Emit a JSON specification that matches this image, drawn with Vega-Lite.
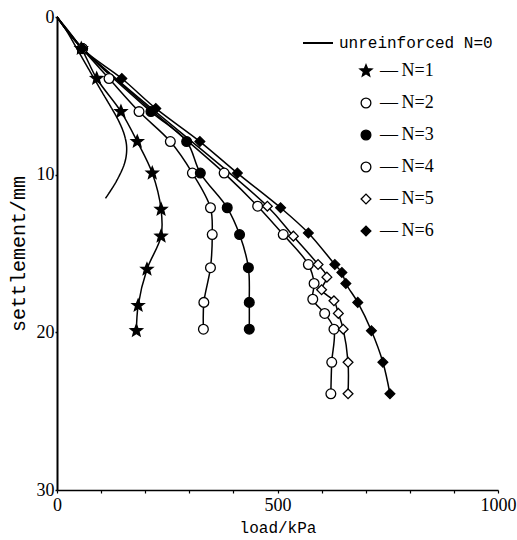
{
  "$schema": "https://vega.github.io/schema/vega-lite/v6.json",
  "width": 441,
  "height": 473,
  "autosize": "none",
  "padding": {"left": 57, "top": 17, "right": 19, "bottom": 50},
  "background": "white",
  "config": {
    "view": {"stroke": null},
    "axis": {"grid": false, "domainColor": "black", "tickColor": "black", "labelColor": "black", "titleColor": "black"}
  },
  "data": {
    "values": [
      {"series": "N=0", "load": 0, "s": 0},
      {"series": "N=0", "load": 20, "s": 0.8},
      {"series": "N=0", "load": 45, "s": 2},
      {"series": "N=0", "load": 82, "s": 3.8},
      {"series": "N=0", "load": 105, "s": 4.9},
      {"series": "N=0", "load": 122, "s": 5.7},
      {"series": "N=0", "load": 140, "s": 6.6},
      {"series": "N=0", "load": 153, "s": 7.5},
      {"series": "N=0", "load": 158, "s": 8.3},
      {"series": "N=0", "load": 154, "s": 9.2},
      {"series": "N=0", "load": 135, "s": 10.4},
      {"series": "N=0", "load": 110, "s": 11.5},
      {"series": "N=1", "load": 0, "s": 0},
      {"series": "N=1", "load": 55, "s": 2},
      {"series": "N=1", "load": 90, "s": 3.9},
      {"series": "N=1", "load": 145, "s": 6},
      {"series": "N=1", "load": 182, "s": 7.9},
      {"series": "N=1", "load": 216, "s": 9.9},
      {"series": "N=1", "load": 236, "s": 12.2},
      {"series": "N=1", "load": 236, "s": 13.9},
      {"series": "N=1", "load": 204, "s": 16.0},
      {"series": "N=1", "load": 184, "s": 18.3},
      {"series": "N=1", "load": 180, "s": 19.9},
      {"series": "N=2", "load": 0, "s": 0},
      {"series": "N=2", "load": 57, "s": 2},
      {"series": "N=2", "load": 118, "s": 3.9},
      {"series": "N=2", "load": 186, "s": 6},
      {"series": "N=2", "load": 257, "s": 7.9},
      {"series": "N=2", "load": 307, "s": 9.9},
      {"series": "N=2", "load": 348, "s": 12.1},
      {"series": "N=2", "load": 352, "s": 13.8},
      {"series": "N=2", "load": 348, "s": 15.9},
      {"series": "N=2", "load": 333, "s": 18.1},
      {"series": "N=2", "load": 332, "s": 19.8},
      {"series": "N=3", "load": 0, "s": 0},
      {"series": "N=3", "load": 57, "s": 2},
      {"series": "N=3", "load": 213, "s": 6},
      {"series": "N=3", "load": 294, "s": 7.9},
      {"series": "N=3", "load": 325, "s": 9.9},
      {"series": "N=3", "load": 386, "s": 12.1},
      {"series": "N=3", "load": 414, "s": 13.8},
      {"series": "N=3", "load": 434, "s": 15.9},
      {"series": "N=3", "load": 436, "s": 18.1},
      {"series": "N=3", "load": 436, "s": 19.8},
      {"series": "N=4", "load": 0, "s": 0},
      {"series": "N=4", "load": 58, "s": 2},
      {"series": "N=4", "load": 379, "s": 9.9},
      {"series": "N=4", "load": 455, "s": 12.0},
      {"series": "N=4", "load": 513, "s": 13.8},
      {"series": "N=4", "load": 570, "s": 15.7},
      {"series": "N=4", "load": 583, "s": 16.9},
      {"series": "N=4", "load": 580, "s": 17.9},
      {"series": "N=4", "load": 607, "s": 18.8},
      {"series": "N=4", "load": 628, "s": 19.8},
      {"series": "N=4", "load": 623, "s": 21.9},
      {"series": "N=4", "load": 621, "s": 23.9},
      {"series": "N=5", "load": 0, "s": 0},
      {"series": "N=5", "load": 58, "s": 2},
      {"series": "N=5", "load": 477, "s": 12.0},
      {"series": "N=5", "load": 536, "s": 13.9},
      {"series": "N=5", "load": 592, "s": 15.7},
      {"series": "N=5", "load": 612, "s": 16.5},
      {"series": "N=5", "load": 600, "s": 17.3},
      {"series": "N=5", "load": 628, "s": 18.0},
      {"series": "N=5", "load": 638, "s": 18.8},
      {"series": "N=5", "load": 649, "s": 19.8},
      {"series": "N=5", "load": 660, "s": 21.9},
      {"series": "N=5", "load": 660, "s": 23.9},
      {"series": "N=6", "load": 0, "s": 0},
      {"series": "N=6", "load": 57, "s": 2},
      {"series": "N=6", "load": 147, "s": 3.9},
      {"series": "N=6", "load": 224, "s": 5.8},
      {"series": "N=6", "load": 324, "s": 7.9},
      {"series": "N=6", "load": 409, "s": 9.9},
      {"series": "N=6", "load": 507, "s": 12.1},
      {"series": "N=6", "load": 570, "s": 13.7},
      {"series": "N=6", "load": 630, "s": 15.7},
      {"series": "N=6", "load": 646, "s": 16.2},
      {"series": "N=6", "load": 655, "s": 16.9},
      {"series": "N=6", "load": 682, "s": 18.1},
      {"series": "N=6", "load": 713, "s": 19.9},
      {"series": "N=6", "load": 739, "s": 21.9},
      {"series": "N=6", "load": 755, "s": 23.9}
    ]
  },
  "encoding": {
    "x": {
      "field": "load", "type": "quantitative",
      "scale": {"domain": [0, 1000], "nice": false},
      "axis": {
        "title": "load/kPa",
        "values": [0, 100, 200, 300, 400, 500, 600, 700, 800, 900, 1000],
        "format": "d",
        "labelExpr": "datum.value % 500 == 0 ? datum.label : ''",
        "tickSize": 3, "labelPadding": 3, "labelFlush": false,
        "domainWidth": 1.5, "tickWidth": 1.2,
        "labelFont": "Liberation Serif", "labelFontSize": 18,
        "titleFont": "Liberation Mono", "titleFontSize": 16, "titleFontWeight": "normal",
        "titlePadding": 5
      }
    },
    "y": {
      "field": "s", "type": "quantitative",
      "scale": {"domain": [0, 30], "nice": false, "reverse": true},
      "axis": {
        "title": "settlement/mm",
        "values": [0, 10, 20, 30],
        "tickSize": 2, "labelPadding": 1,
        "domainWidth": 2, "tickWidth": 1.5,
        "labelFont": "Liberation Serif", "labelFontSize": 18,
        "titleFont": "Liberation Mono", "titleFontSize": 20, "titleFontWeight": "normal",
        "titlePadding": 8
      }
    }
  },
  "layer": [
    {
      "transform": [{"filter": "datum.series != 'N=0'"}],
      "mark": {"type": "line", "interpolate": "catmull-rom", "color": "black", "strokeWidth": 1.5},
      "encoding": {"detail": {"field": "series", "type": "nominal"}, "order": {"field": "s", "type": "quantitative"}}
    },
    {
      "transform": [{"filter": "datum.series == 'N=0'"}],
      "mark": {"type": "line", "interpolate": "catmull-rom", "color": "black", "strokeWidth": 1.5},
      "encoding": {
        "order": {"field": "s", "type": "quantitative"},
        "strokeDash": {
          "field": "series", "type": "nominal",
          "scale": {"domain": ["N=0"], "range": [[1, 0]]},
          "legend": {
            "title": null, "orient": "none", "legendX": 245, "legendY": 10, "padding": 0,
            "symbolType": "stroke", "symbolSize": 900, "symbolStrokeWidth": 1.8, "symbolStrokeColor": "black",
            "labelFont": "Liberation Mono", "labelFontSize": 16, "labelColor": "black", "labelOffset": 5,
            "labelExpr": "'unreinforced N=0'"
          }
        }
      }
    },
    {
      "transform": [{"filter": "datum.series != 'N=0' && datum.s > 0"}],
      "mark": {"type": "point", "filled": false, "strokeWidth": 1.3, "size": 95, "opacity": 1},
      "encoding": {
        "shape": {
          "field": "series", "type": "nominal",
          "scale": {"domain": ["N=1", "N=2", "N=3", "N=4", "N=5", "N=6"], "range": ["M0,-1.3L0.33,-0.46L1.24,-0.4L0.53,0.17L0.76,1.05L0,0.56L-0.76,1.05L-0.53,0.17L-1.24,-0.4L-0.33,-0.46Z", "circle", "circle", "circle", "diamond", "diamond"]},
          "legend": {
            "title": null, "orient": "none", "legendX": 300, "legendY": 45, "padding": 0, "rowPadding": 14,
            "symbolSize": 95, "symbolStrokeWidth": 1.3,
            "labelFont": "Liberation Serif", "labelFontSize": 18, "labelColor": "black", "labelOffset": 5,
            "labelExpr": "'—\u2009' + datum.label"
          }
        },
        "fill": {
          "field": "series", "type": "nominal",
          "scale": {"domain": ["N=1", "N=2", "N=3", "N=4", "N=5", "N=6"], "range": ["black", "white", "black", "white", "white", "black"]},
          "legend": {
            "title": null, "orient": "none", "legendX": 300, "legendY": 45, "padding": 0, "rowPadding": 14,
            "symbolSize": 95, "symbolStrokeWidth": 1.3,
            "labelFont": "Liberation Serif", "labelFontSize": 18, "labelColor": "black", "labelOffset": 5,
            "labelExpr": "'—\u2009' + datum.label"
          }
        },
        "stroke": {
          "field": "series", "type": "nominal",
          "scale": {"domain": ["N=1", "N=2", "N=3", "N=4", "N=5", "N=6"], "range": ["black", "black", "black", "black", "black", "black"]},
          "legend": {
            "title": null, "orient": "none", "legendX": 300, "legendY": 45, "padding": 0, "rowPadding": 14,
            "symbolSize": 95, "symbolStrokeWidth": 1.3,
            "labelFont": "Liberation Serif", "labelFontSize": 18, "labelColor": "black", "labelOffset": 5,
            "labelExpr": "'—\u2009' + datum.label"
          }
        }
      }
    }
  ]
}
